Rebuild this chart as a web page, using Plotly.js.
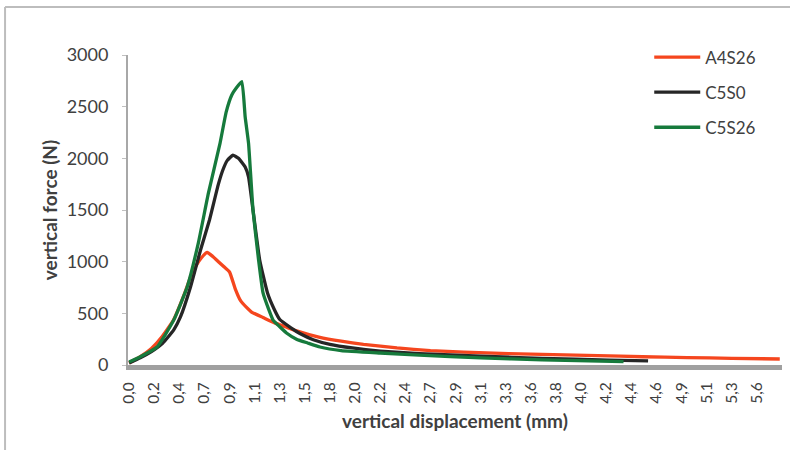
<!DOCTYPE html>
<html>
<head>
<meta charset="utf-8">
<script src="https://cdn.plot.ly/plotly-3.0.1.min.js"></script>
<style>
  html, body { margin: 0; padding: 0; background: #fff; }
  #chart { width: 790px; height: 450px; }
</style>
</head>
<body>
<div id="chart"></div>
<script>
// Category labels on the displacement axis (mm)
const tickLabels = ["0,0","0,2","0,4","0,7","0,9","1,1","1,3","1,5","1,8","2,0","2,2","2,4","2,7",
                    "2,9","3,1","3,3","3,6","3,8","4,0","4,2","4,4","4,6","4,9","5,1","5,3","5,6"];
const tickStep = 0.225; // mm between consecutive category labels

// A4S26
const a4s26_x = [0, 0.1, 0.2, 0.3, 0.4, 0.5, 0.55, 0.6, 0.65, 0.7, 0.75, 0.8, 0.85, 0.9, 0.95, 1.0, 1.05,
                 1.1, 1.2, 1.3, 1.4, 1.5, 1.7, 1.9, 2.1, 2.4, 2.7, 3.0, 3.4, 3.8, 4.2, 4.6, 5.0, 5.4, 5.83];
const a4s26_y = [20, 80, 160, 280, 440, 700, 850, 960, 1040, 1090, 1050, 1000, 950, 900, 740, 620, 560,
                 510, 460, 410, 370, 330, 270, 230, 200, 165, 140, 125, 110, 100, 90, 80, 72, 65, 58];

// C5S0
const c5s0_x = [0, 0.1, 0.2, 0.3, 0.4, 0.46, 0.55, 0.64, 0.72, 0.8, 0.84, 0.88, 0.93, 0.98, 1.04, 1.07,
                1.11, 1.17, 1.24, 1.3, 1.35, 1.45, 1.53, 1.65, 1.8, 2.0, 2.25, 2.6, 3.15, 3.7, 4.3, 4.65];
const c5s0_y = [20, 70, 130, 210, 340, 465, 755, 1113, 1403, 1750, 1887, 1980, 2030, 2000, 1916, 1820,
                1500, 1016, 697, 540, 440, 360, 305, 245, 200, 165, 135, 110, 85, 65, 48, 40];

// C5S26
const c5s26_x = [0, 0.1, 0.25, 0.4, 0.52, 0.62, 0.71, 0.815, 0.87, 0.92, 0.96, 1.01, 1.04, 1.07, 1.11,
                 1.16, 1.2, 1.25, 1.29, 1.35, 1.41, 1.5, 1.6, 1.71, 1.9, 2.25, 2.6, 3.15, 3.7, 4.43];
const c5s26_y = [30, 80, 174, 435, 755, 1180, 1660, 2148, 2450, 2613, 2680, 2742, 2400, 2148, 1500,
                 1016, 697, 540, 435, 370, 310, 250, 213, 174, 140, 116, 95, 68, 50, 32];

const tickVals = tickLabels.map((_, i) => i * tickStep);
const FONT = "Lato, 'Open Sans', sans-serif";
const TXT = "#404040";
const LINE = {width: 3.3, shape: "spline", smoothing: 0.4};

const traces = [
  {x: a4s26_x, y: a4s26_y, name: "A4S26", mode: "lines", legendgroup: "a",
   line: Object.assign({color: "#F5461E"}, LINE)},
  {x: c5s0_x, y: c5s0_y, name: "C5S0", mode: "lines", legendgroup: "b",
   line: Object.assign({color: "#262626"}, LINE)},
  {x: c5s26_x, y: c5s26_y, name: "C5S26", mode: "lines", legendgroup: "c",
   line: Object.assign({color: "#167A3C"}, LINE)}
];

const layout = {
  width: 790, height: 450,
  margin: {l: 128, r: 8, t: 55, b: 85, pad: 0},
  paper_bgcolor: "#fff", plot_bgcolor: "#fff",
  font: {family: FONT, color: TXT},
  showlegend: true,
  legend: {x: 0.797, xanchor: "left", y: 1.05, yanchor: "top",
           font: {family: FONT, size: 17, color: TXT},
           tracegroupgap: 10, itemwidth: 46, bgcolor: "rgba(0,0,0,0)"},
  xaxis: {
    range: [-0.01, 5.85], tickmode: "array", tickvals: tickVals, ticktext: tickLabels,
    tickangle: -90, tickfont: {size: 15.5, color: TXT, family: FONT},
    ticks: "", ticklabelstandoff: 6, showgrid: false, zeroline: false,
    showline: true, linecolor: "#A0A0A0", linewidth: 5,
    title: {text: "vertical displacement (mm)", font: {size: 19, color: TXT, family: FONT, weight: "bold"}, standoff: 13}
  },
  yaxis: {
    range: [0, 3000], dtick: 500, tickfont: {size: 18, color: TXT, family: FONT},
    ticks: "outside", ticklen: 4, tickcolor: "#C0C0C0", tickwidth: 1,
    ticklabelstandoff: 10,
    showgrid: false, zeroline: false,
    showline: true, linecolor: "#A8A8A8", linewidth: 2,
    title: {text: "vertical force (N)", font: {size: 19, color: TXT, family: FONT, weight: "bold"}, standoff: 4}
  },
  shapes: [
    {type: "line", xref: "paper", yref: "paper", x0: -0.188, x1: 1.02, y0: 1.155, y1: 1.155,
     line: {color: "#BDBDBD", width: 2}},
    {type: "line", xref: "paper", yref: "paper", x0: -0.188, x1: -0.188, y0: 1.155, y1: -0.3,
     line: {color: "#BDBDBD", width: 2}}
  ]
};

Plotly.newPlot("chart", traces, layout, {displayModeBar: false, staticPlot: true});
</script>
</body>
</html>
